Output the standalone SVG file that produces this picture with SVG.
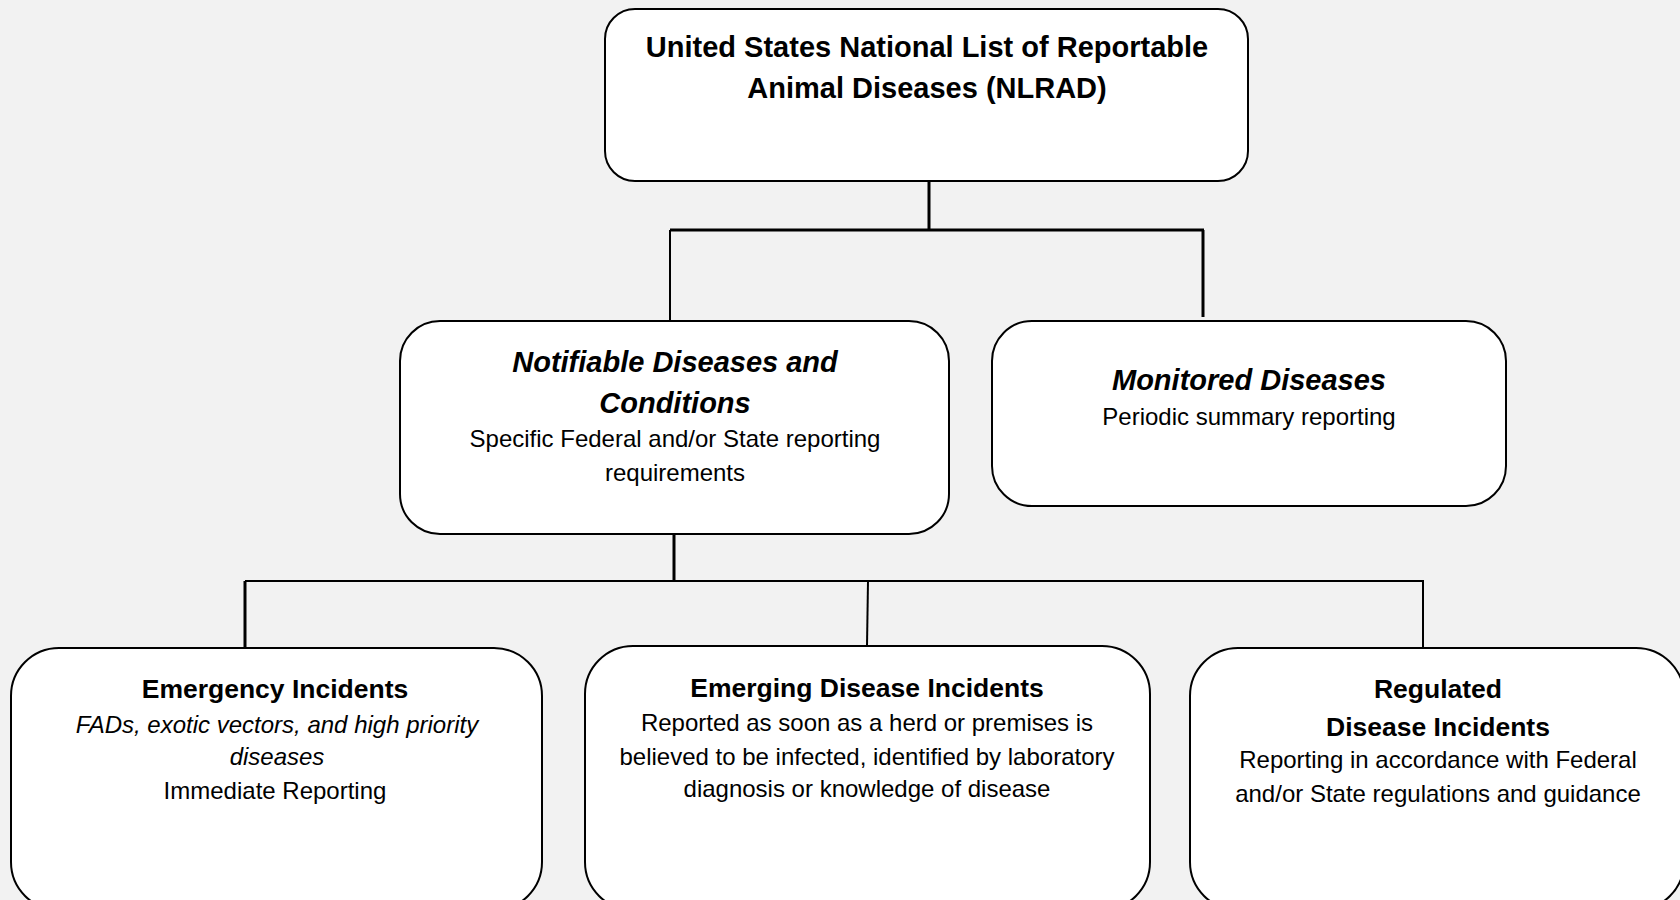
<svg xmlns="http://www.w3.org/2000/svg" width="1680" height="900" viewBox="0 0 1680 900">
<style>
.box{fill:#ffffff;stroke:#000000;stroke-width:2}
.c{stroke:#000000;fill:none}
text{font-family:"Liberation Sans",Arial,sans-serif;fill:#000000;text-anchor:middle}
.h{font-size:29px;font-weight:bold}
.hi{font-size:29px;font-weight:bold;font-style:italic}
.bh{font-size:26.5px;font-weight:bold}
.t{font-size:24px}
.ti{font-size:24px;font-style:italic}
</style>
<rect x="0" y="0" width="1680" height="900" fill="#f2f2f2"/>
<g id="connectors">
<line class="c" x1="929" y1="179" x2="929" y2="231" stroke-width="3"/>
<line class="c" x1="670" y1="230" x2="1204" y2="230" stroke-width="3"/>
<line class="c" x1="670" y1="230" x2="670" y2="321" stroke-width="2"/>
<line class="c" x1="1203" y1="230" x2="1203" y2="317" stroke-width="3"/>
<line class="c" x1="674" y1="534" x2="674" y2="582" stroke-width="3"/>
<line class="c" x1="245" y1="581" x2="1424" y2="581" stroke-width="2"/>
<line class="c" x1="245" y1="581" x2="245" y2="648" stroke-width="3"/>
<line class="c" x1="868" y1="581" x2="867" y2="646" stroke-width="2"/>
<line class="c" x1="1423" y1="581" x2="1423" y2="648" stroke-width="2"/>
</g>
<g id="nlrad">
<rect class="box" x="605" y="9" width="643" height="172" rx="30"/>
<text class="h" x="927" y="57">United States National List of Reportable</text>
<text class="h" x="927" y="98">Animal Diseases (NLRAD)</text>
</g>
<g id="notifiable">
<rect class="box" x="400" y="321" width="549" height="213" rx="40"/>
<text class="hi" x="675" y="372">Notifiable Diseases and</text>
<text class="hi" x="675" y="413">Conditions</text>
<text class="t" x="675" y="447">Specific Federal and/or State reporting</text>
<text class="t" x="675" y="481">requirements</text>
</g>
<g id="monitored">
<rect class="box" x="992" y="321" width="514" height="185" rx="40"/>
<text class="hi" x="1249" y="390">Monitored Diseases</text>
<text class="t" x="1249" y="425">Periodic summary reporting</text>
</g>
<g id="emergency">
<rect class="box" x="11" y="648" width="531" height="262" rx="48"/>
<text class="bh" x="275" y="698">Emergency Incidents</text>
<text class="ti" x="277" y="733">FADs, exotic vectors, and high priority</text>
<text class="ti" x="277" y="765">diseases</text>
<text class="t" x="275" y="799">Immediate Reporting</text>
</g>
<g id="emerging">
<rect class="box" x="585" y="646" width="565" height="264" rx="48"/>
<text class="bh" x="867" y="697">Emerging Disease Incidents</text>
<text class="t" x="867" y="731">Reported as soon as a herd or premises is</text>
<text class="t" x="867" y="765">believed to be infected, identified by laboratory</text>
<text class="t" x="867" y="797">diagnosis or knowledge of disease</text>
</g>
<g id="regulated">
<rect class="box" x="1190" y="648" width="494" height="262" rx="48"/>
<text class="bh" x="1438" y="698">Regulated</text>
<text class="bh" x="1438" y="736">Disease Incidents</text>
<text class="t" x="1438" y="768">Reporting in accordance with Federal</text>
<text class="t" x="1438" y="802">and/or State regulations and guidance</text>
</g>
</svg>
